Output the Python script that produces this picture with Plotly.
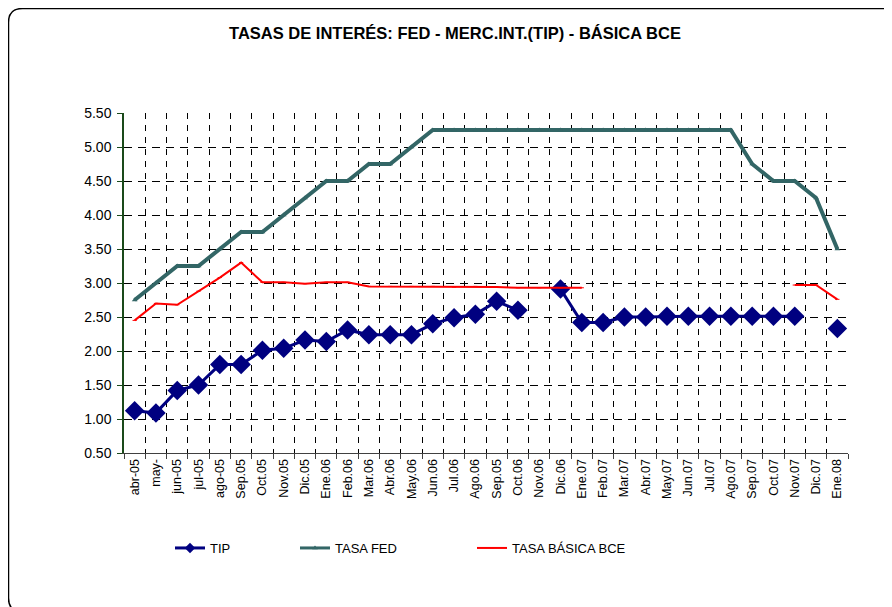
import plotly.graph_objects as go

categories = ["abr-05", "may-", "jun-05", "jul-05", "ago-05", "Sep.05", "Oct.05", "Nov.05",
              "Dic.05", "Ene.06", "Feb.06", "Mar.06", "Abr.06", "May.06", "Jun.06", "Jul.06",
              "Ago.06", "Sep.05", "Oct.06", "Nov.06", "Dic.06", "Ene.07", "Feb.07", "Mar.07",
              "Abr.07", "May.07", "Jun.07", "Jul.07", "Ago.07", "Sep.07", "Oct.07", "Nov.07",
              "Dic.07", "Ene.08"]

tip = [1.12, 1.09, 1.42, 1.50, 1.80, 1.80, 2.01, 2.04, 2.16, 2.14, 2.31, 2.24, 2.24, 2.24,
       2.40, 2.49, 2.54, 2.73, 2.60, None, 2.91, 2.42, 2.42, 2.50, 2.50, 2.51, 2.51, 2.51,
       2.51, 2.51, 2.51, 2.51, None, 2.33]

tasa_fed = [2.75, 3.00, 3.25, 3.25, 3.50, 3.75, 3.75, 4.00, 4.25, 4.50, 4.50, 4.75, 4.75,
            5.00, 5.25, 5.25, 5.25, 5.25, 5.25, 5.25, 5.25, 5.25, 5.25, 5.25, 5.25, 5.25,
            5.25, 5.25, 5.25, 4.75, 4.50, 4.50, 4.25, 3.50]

tasa_bce = [2.45, 2.70, 2.68, 2.88, 3.08, 3.30, 3.01, 3.01, 2.99, 3.01, 3.01, 2.95, 2.95,
            2.95, 2.95, 2.94, 2.95, 2.94, 2.93, 2.93, 2.93, 2.93, None, None, None, None,
            None, None, None, None, None, 2.97, 2.97, 2.76]

y_ticks = [0.5, 1.0, 1.5, 2.0, 2.5, 3.0, 3.5, 4.0, 4.5, 5.0, 5.5]

x = list(range(len(categories)))
FONT = "Liberation Sans, Arial, sans-serif"

# page body has an 8px margin; work in page pixels and convert
OFF = 8
W, H = 892 - OFF, 607 - OFF
PL, PR, PT, PB = 124, 848, 113, 453  # plot area in page pixels
L, R, T, B = PL - OFF, W - (PR - OFF), PT - OFF, H - (PB - OFF)
pw, ph = PR - PL, PB - PT


def px_x(p):
    return (p - PL) / pw


def px_y(p):
    return (PB - p) / ph


series = [
    ("TIP", tip, dict(color="#000080", width=3),
     dict(symbol="diamond", size=15, color="#000080"),
     dict(symbol="diamond", size=8, color="#000080"), "legend"),
    ("TASA FED", tasa_fed, dict(color="#336666", width=4),
     dict(symbol="triangle-up", size=5, color="#336666"),
     dict(symbol="triangle-up", size=5, color="#336666"), "legend2"),
    ("TASA BÁSICA BCE", tasa_bce, dict(color="#FF0000", width=2),
     dict(symbol="line-ew", size=3, color="#FF0000", line=dict(color="#FF0000", width=1)),
     dict(symbol="line-ew", size=3, color="#FF0000", line=dict(color="#FF0000", width=1)),
     "legend3"),
]

fig = go.Figure()
for name, vals, line, marker, lmarker, leg in series:
    fig.add_trace(go.Scatter(
        x=x, y=vals, name=name, mode="lines+markers", line=line, marker=marker,
        connectgaps=False, showlegend=False))
for name, vals, line, marker, lmarker, leg in series:
    fig.add_trace(go.Scatter(
        x=[None], y=[None], name=name, mode="lines+markers",
        line=dict(color=line["color"], width=min(line["width"], 3)), marker=lmarker,
        showlegend=True, legend=leg, hoverinfo="skip"))

# rounded outer border
x0, x1 = px_x(8.5), px_x(897)
y0, y1 = px_y(612), px_y(8.5)
rx, ry = 14 / pw, 14 / ph
path = (f"M {x0+rx},{y1} L {x1-rx},{y1} Q {x1},{y1} {x1},{y1-ry} "
        f"L {x1},{y0+ry} Q {x1},{y0} {x1-rx},{y0} L {x0+rx},{y0} "
        f"Q {x0},{y0} {x0},{y0+ry} L {x0},{y1-ry} Q {x0},{y1} {x0+rx},{y1} Z")
fig.add_shape(type="path", path=path, xref="paper", yref="paper",
              line=dict(color="black", width=1.5), layer="below")

legend_common = dict(orientation="h", yanchor="middle", xanchor="left",
                     bgcolor="rgba(0,0,0,0)", font=dict(family=FONT, size=13, color="black"),
                     itemwidth=30, tracegroupgap=0)

fig.update_layout(
    width=W, height=H,
    showlegend=True,
    margin=dict(l=L, r=R, t=T, b=B, pad=0),
    paper_bgcolor="white", plot_bgcolor="white",
    title=dict(text="<b>TASAS DE INTERÉS: FED - MERC.INT.(TIP) - BÁSICA BCE</b>",
               x=(455 - OFF) / W, xanchor="center",
               y=1 - (33 - OFF) / H, yanchor="middle", yref="container",
               font=dict(family=FONT, size=16.5, color="black")),
    font=dict(family=FONT, color="black"),
    legend=dict(x=px_x(170), y=px_y(548), **legend_common),
    legend2=dict(x=px_x(295), y=px_y(548), **legend_common),
    legend3=dict(x=px_x(472), y=px_y(548), **legend_common),
    xaxis=dict(
        range=[-0.5, len(categories) - 0.5],
        tickmode="array", tickvals=x, ticktext=categories,
        tickangle=-90, ticks="", showgrid=False, zeroline=False,
        tickfont=dict(family=FONT, size=12.5, color="black"),
        showline=True, linecolor="#404040", linewidth=1,
        minor=dict(tick0=-0.5, dtick=1, ticks="outside", ticklen=5, tickcolor="#404040",
                   showgrid=True, gridcolor="black", gridwidth=1, griddash="6px,6px"),
    ),
    yaxis=dict(
        range=[0.5, 5.5], tickmode="array", tickvals=y_ticks,
        tickformat=".2f", ticks="outside", ticklen=5, tickcolor="#1a4a1a",
        ticklabelstandoff=3,
        showgrid=True, gridcolor="black", gridwidth=1, griddash="8px,6px",
        zeroline=False, showline=True, linecolor="#1a4a1a", linewidth=1.5,
        tickfont=dict(family=FONT, size=14, color="black"),
    ),
)

fig.write_html("out.html")
